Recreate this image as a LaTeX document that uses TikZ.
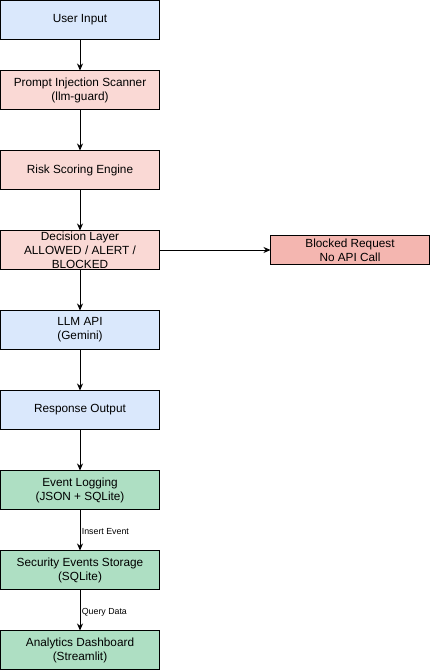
\documentclass[tikz,border=0pt]{standalone}
\usepackage{fontspec}
\setmainfont{Liberation Sans}
\usetikzlibrary{positioning,arrows.meta}

\definecolor{boxBlue}{HTML}{DAE8FC}
\definecolor{boxRed}{HTML}{FAD9D5}
\definecolor{boxBlocked}{HTML}{F4B6B0}
\definecolor{boxGreen}{HTML}{AEDFC3}

\tikzset{
  stage/.style={draw, line width=0.8pt, minimum width=159pt, minimum height=39pt,
    inner sep=0pt, outer sep=0pt, align=center, font=\fontsize{11.8}{14}\selectfont},
  flow/.style={-{Stealth[length=7pt,width=6pt]}, line width=0.8pt},
  flowlabel/.style={font=\fontsize{8.8}{10}\selectfont, right, inner sep=1.5pt, yshift=-2pt}
}

\begin{document}
\begin{tikzpicture}[x=1pt, y=-1pt, node distance=30pt]
  \useasboundingbox (0,0) rectangle (431,671);

  \node[stage, fill=boxBlue, anchor=north west] (input) at (0.5,0.5) {User Input};
  \node[stage, fill=boxRed, below=31pt of input] (scanner) {Prompt Injection Scanner\\(llm-guard)};
  \node[stage, fill=boxRed, below=41pt of scanner] (risk) {Risk Scoring Engine};
  \node[stage, fill=boxRed, below=41pt of risk] (decision) {Decision Layer\\ALLOWED / ALERT /\\BLOCKED};
  \node[stage, fill=boxBlocked, minimum height=29pt, right=111pt of decision] (blocked) {Blocked Request\\No API Call};
  \node[stage, fill=boxBlue, below=41pt of decision] (llm) {LLM API\\(Gemini)};
  \node[stage, fill=boxBlue, below=41pt of llm] (response) {Response Output};
  \node[stage, fill=boxGreen, below=41pt of response] (logging) {Event Logging\\(JSON + SQLite)};
  \node[stage, fill=boxGreen, below=41pt of logging] (storage) {Security Events Storage\\(SQLite)};
  \node[stage, fill=boxGreen, below=41pt of storage] (dashboard) {Analytics Dashboard\\(Streamlit)};

  % main flow
  \draw[flow] (input) -- (scanner);
  \draw[flow] (scanner) -- (risk);
  \draw[flow] (risk) -- (decision);
  \draw[flow] (decision) -- (blocked);
  \draw[flow] (decision) -- (llm);
  \draw[flow] (llm) -- (response);
  \draw[flow] (response) -- (logging);
  \draw[flow] (logging) -- node[flowlabel] {Insert Event} (storage);
  \draw[flow] (storage) -- node[flowlabel] {Query Data} (dashboard);
\end{tikzpicture}
\end{document}
